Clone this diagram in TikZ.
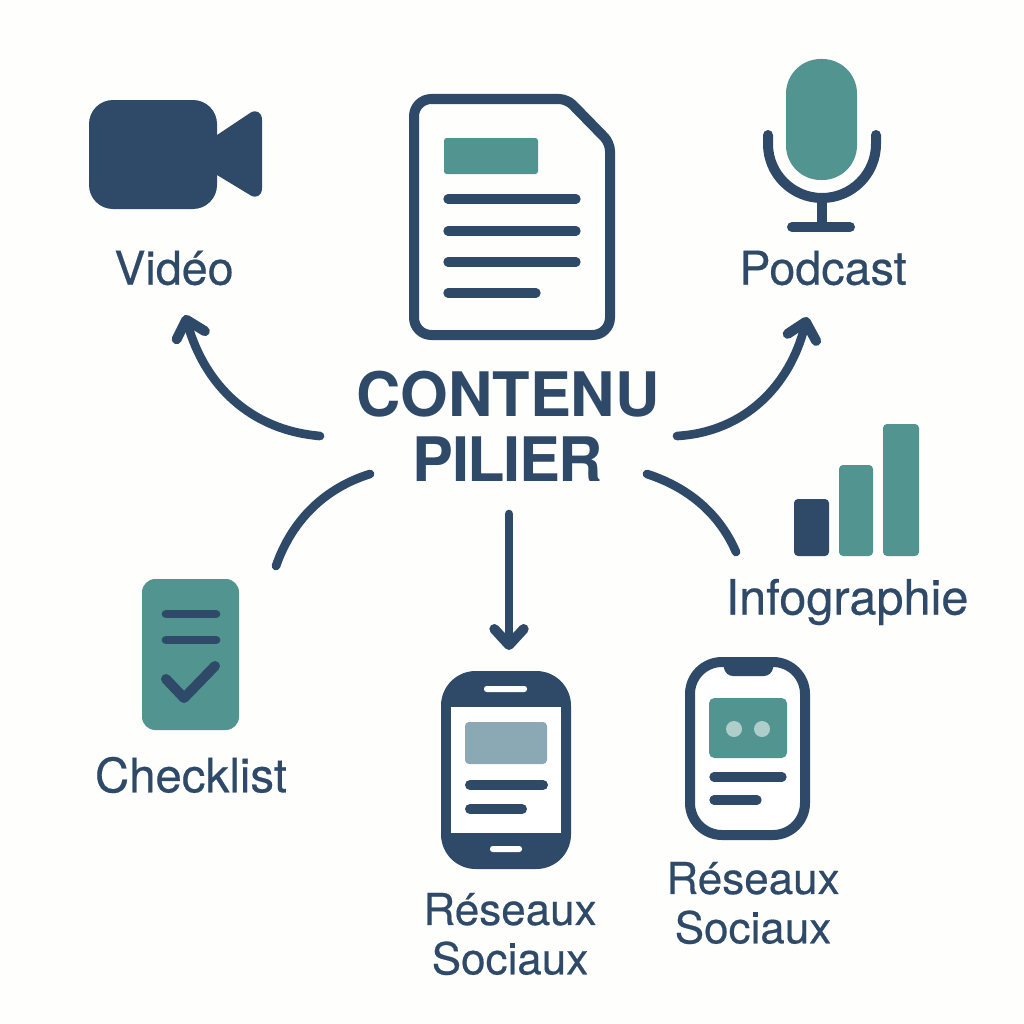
\documentclass[tikz,border=0pt]{standalone}
\usepackage{fontspec}
\setmainfont{TeX Gyre Heros}
\newfontfamily\labf[FakeBold=0.4]{TeX Gyre Heros}
\usetikzlibrary{arrows.meta}
\definecolor{navy}{HTML}{2E4A68}
\definecolor{teal2}{HTML}{52948F}
\definecolor{paper}{HTML}{FEFEFC}
\definecolor{pale}{HTML}{8BA8B5}
\definecolor{dot}{HTML}{AECDCB}
\tikzset{
  lab/.style={text=navy,font=\labf\fontsize{#1}{37}\selectfont,inner sep=0pt,align=center},
  lab/.default=34,
  titlelab/.style={text=navy,font=\fontsize{46}{49}\selectfont\bfseries,inner sep=0pt,align=center},
  conn/.style={draw=navy,line width=6.5pt,line cap=round},
  arr/.style={conn,-{Straight Barb[round,length=12pt,width=22pt,line width=7.5pt]}},
  navyfill/.style={fill=navy,draw=none},
  tealfill/.style={fill=teal2,draw=none},
  textline/.style={draw=navy,line width=7pt,line cap=round},
}
\begin{document}
\begin{tikzpicture}[x=0.75pt,y=-0.75pt]
\useasboundingbox (0,0) rectangle (1024,1024);
\fill[paper] (0,0) rectangle (1024,1024);
% document
\draw[navy,line width=7.5pt,line join=round,fill=paper,rounded corners=13pt]
  (414,99) [rounded corners=6pt] -- (567,99) -- (610,143) [rounded corners=13pt] -- (610,335) -- (414,335) -- cycle;
\fill[tealfill,rounded corners=2pt] (444,138) rectangle (538,174);
\draw[textline] (448,199) -- (576,199);
\draw[textline] (448,231) -- (576,231);
\draw[textline] (448,262) -- (576,262);
\draw[textline] (448,293) -- (536,293);
% camera
\fill[navyfill,rounded corners=18pt] (89,100) rectangle (217,209);
\fill[navyfill] (210,135) -- (217,135) -- (250,113) .. controls (256,109) and (262,112) .. (262,120) -- (262,188) .. controls (262,196) and (256,199) .. (250,195) -- (217,175) -- (210,175) -- cycle;
% mic
\fill[tealfill,rounded corners=26pt] (786,59) rectangle (857,180);
\draw[navy,line width=7.5pt,line cap=round] (768,135) -- (768,144) arc[start angle=180,end angle=0,radius=54] -- (876,135);
\draw[navy,line width=7.5pt,line cap=butt] (822,198) -- (822,227);
\draw[navy,line width=7.5pt,line cap=round] (792,227) -- (850,227);
% bars
\fill[navyfill,rounded corners=3pt] (794,499) rectangle (829,556);
\fill[tealfill,rounded corners=3pt] (839,465) rectangle (873,556);
\fill[tealfill,rounded corners=3pt] (883,424) rectangle (919,556);
% checklist
\fill[tealfill,rounded corners=10pt] (142,579) rectangle (239,730);
\draw[textline,line width=6.5pt] (166,614) -- (216,614);
\draw[textline,line width=6.5pt] (166,640) -- (216,640);
\draw[textline,line width=7.5pt,line join=round] (166,679) -- (184,698) -- (215,666);
% phone 1
\fill[navyfill,rounded corners=26pt] (441,671) rectangle (571,869);
\fill[white] (451,707) rectangle (561,833);
\fill[white,rounded corners=2pt] (484,686) rectangle (527,692);
\fill[white,rounded corners=2pt] (490,846) rectangle (522,852);
\fill[pale,rounded corners=3pt] (465,722) rectangle (547,764);
\draw[navy,line width=7.5pt,line cap=round] (470,785) -- (543,785);
\draw[navy,line width=7.5pt,line cap=round] (470,809) -- (522,809);
% phone 2
\draw[navy,line width=7.5pt,rounded corners=24pt,fill=white] (690,662) rectangle (805,835);
\fill[navyfill] (723,660) [rounded corners=6pt] -- (725,676) -- (772,676) [sharp corners] -- (774,660) -- cycle;
\fill[tealfill,rounded corners=4pt] (709,698) rectangle (787,758);
\fill[dot] (734,729) circle[radius=8];
\fill[dot] (762,729) circle[radius=8];
\draw[navy,line width=7pt,line cap=round] (714,777) -- (782,777);
\draw[navy,line width=7pt,line cap=round] (714,800) -- (757,800);
% labels
\node[titlelab] (pilier) at (508,426) {CONTENU\\{\addfontfeature{LetterSpace=-2.5}PILIER}};
\node[lab=35] (video) at (174,268) {Vidéo};
\node[lab=35] (podcast) at (823,268) {Podcast};
\node[lab=36.5] (info) at (847,602) {Infographie};
\node[lab=35.5] (check) at (191,775) {Checklist};
\node[lab=33] (res1) at (510,934) {Réseaux\\Sociaux};
\node[lab=33] (res2) at (753,903) {Réseaux\\Sociaux};
% connector ends
\coordinate (vs) at (320,436);
\coordinate (ve) at (185,315);
\coordinate (ps) at (677,436);
\coordinate (pe) at (807,317);
\coordinate (rs) at (647,474);
\coordinate (re) at (736,552);
\coordinate (ls) at (370,474);
\coordinate (le) at (276,566);
\coordinate (ds) at (509,514);
\coordinate (de) at (509,650);
\draw[arr] (vs) .. controls (250,430) and (205,385) .. (ve);
\draw[arr] (ps) .. controls (745,432) and (790,385) .. (pe);
\draw[conn] (rs) .. controls (690,488) and (720,515) .. (re);
\draw[conn] (ls) .. controls (325,488) and (292,520) .. (le);
\draw[arr] (ds) -- (de);
\end{tikzpicture}
\end{document}
